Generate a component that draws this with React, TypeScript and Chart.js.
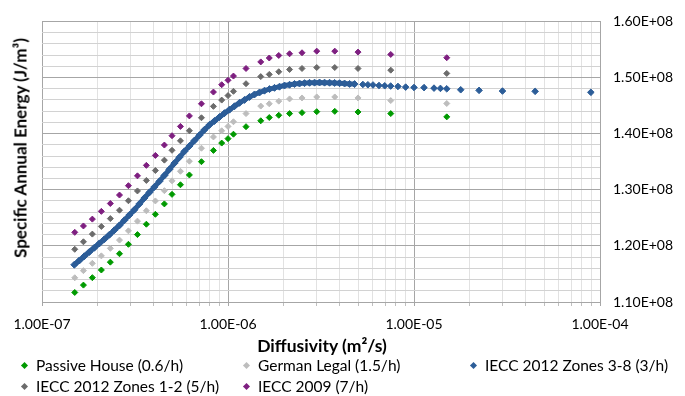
import React, { useEffect, useRef } from "react";
import { Chart, registerables } from "chart.js";

Chart.register(...registerables);

// ---- data (x: diffusivity m²/s, y: specific annual energy J/m³) ----
const commonX = [
  1.5e-7, 1.67e-7, 1.865e-7, 2.085e-7, 2.33e-7, 2.61e-7, 2.915e-7, 3.26e-7, 3.64e-7, 4.07e-7,
  4.55e-7, 5.0e-7, 5.55e-7, 6.2e-7, 7.2e-7, 8.35e-7, 9.25e-7, 1.0e-6, 1.07e-6, 1.25e-6,
  1.5e-6, 1.667e-6, 1.875e-6, 2.143e-6, 2.5e-6, 3.0e-6, 3.75e-6, 5.0e-6, 7.5e-6, 1.5e-5,
];
const passiveHouse = [
  1.117e8, 1.1301e8, 1.1434e8, 1.157e8, 1.171e8, 1.186e8, 1.2028e8, 1.2201e8, 1.2386e8, 1.2563e8,
  1.2748e8, 1.2918e8, 1.3089e8, 1.3264e8, 1.35e8, 1.3701e8, 1.3832e8, 1.3911e8, 1.399e8, 1.4124e8,
  1.4229e8, 1.4287e8, 1.4327e8, 1.4357e8, 1.4374e8, 1.4392e8, 1.4397e8, 1.4386e8, 1.4357e8, 1.4299e8,
];
const germanLegal = [
  1.1432e8, 1.1559e8, 1.1689e8, 1.1822e8, 1.1956e8, 1.2103e8, 1.2268e8, 1.2441e8, 1.2626e8, 1.2801e8,
  1.2984e8, 1.3159e8, 1.3329e8, 1.3509e8, 1.374e8, 1.3941e8, 1.4051e8, 1.4129e8, 1.4212e8, 1.4357e8,
  1.4491e8, 1.4532e8, 1.4579e8, 1.4619e8, 1.4636e8, 1.4654e8, 1.4654e8, 1.4636e8, 1.4589e8, 1.4537e8,
];
const zones12 = [
  1.1939e8, 1.2073e8, 1.221e8, 1.2346e8, 1.2486e8, 1.2636e8, 1.2804e8, 1.2979e8, 1.3166e8, 1.3343e8,
  1.3528e8, 1.3703e8, 1.3872e8, 1.4052e8, 1.4283e8, 1.4486e8, 1.4598e8, 1.4678e8, 1.4754e8, 1.489e8,
  1.5016e8, 1.5056e8, 1.5103e8, 1.5143e8, 1.5161e8, 1.5178e8, 1.5178e8, 1.5161e8, 1.5131e8, 1.5073e8,
];
const iecc2009 = [
  1.2241e8, 1.2355e8, 1.2477e8, 1.2615e8, 1.2755e8, 1.2906e8, 1.3073e8, 1.3248e8, 1.3435e8, 1.3612e8,
  1.3797e8, 1.3963e8, 1.4129e8, 1.4316e8, 1.4532e8, 1.4741e8, 1.4872e8, 1.4951e8, 1.5026e8, 1.5161e8,
  1.5278e8, 1.5348e8, 1.5393e8, 1.5423e8, 1.5441e8, 1.547e8, 1.547e8, 1.5453e8, 1.5411e8, 1.5353e8,
];
const zones38DenseX = [
  1.492e-7, 1.588e-7, 1.689e-7, 1.797e-7, 1.912e-7, 2.034e-7, 2.165e-7, 2.303e-7, 2.45e-7, 2.607e-7,
  2.773e-7, 2.951e-7, 3.139e-7, 3.34e-7, 3.553e-7, 3.78e-7, 4.022e-7, 4.279e-7, 4.552e-7, 4.843e-7,
  5.153e-7, 5.482e-7, 5.832e-7, 6.205e-7, 6.601e-7, 7.023e-7, 7.472e-7, 7.949e-7, 8.457e-7, 8.998e-7,
  9.573e-7, 1.0184e-6, 1.0835e-6, 1.1527e-6, 1.2264e-6, 1.3048e-6, 1.3881e-6, 1.4768e-6, 1.5712e-6, 1.6716e-6,
  1.7784e-6, 1.8921e-6, 2.013e-6, 2.143e-6, 2.2785e-6, 2.4241e-6, 2.579e-6, 2.7438e-6, 2.9192e-6, 3.1057e-6,
  3.3042e-6, 3.5154e-6, 3.7401e-6, 3.9791e-6, 4.2334e-6, 4.504e-6, 4.7918e-6,
];
const zones38DenseY = [
  1.1664e8, 1.174e8, 1.1816e8, 1.1892e8, 1.1967e8, 1.2044e8, 1.2119e8, 1.2198e8, 1.228e8, 1.2364e8,
  1.2456e8, 1.2551e8, 1.2643e8, 1.2748e8, 1.2853e8, 1.2953e8, 1.3051e8, 1.315e8, 1.3255e8, 1.3364e8,
  1.3474e8, 1.3579e8, 1.3684e8, 1.378e8, 1.3876e8, 1.3972e8, 1.4068e8, 1.4156e8, 1.4226e8, 1.4296e8,
  1.4365e8, 1.4427e8, 1.4488e8, 1.4549e8, 1.4601e8, 1.4654e8, 1.4698e8, 1.4733e8, 1.4766e8, 1.4794e8,
  1.4816e8, 1.4837e8, 1.4857e8, 1.4872e8, 1.4885e8, 1.4893e8, 1.49e8, 1.4906e8, 1.4909e8, 1.4911e8,
  1.4909e8, 1.4907e8, 1.4904e8, 1.4899e8, 1.4893e8, 1.4886e8, 1.4883e8,
];
const zones38SparseX = [
  5.31e-6, 5.65e-6, 6.02e-6, 6.48e-6, 6.96e-6, 7.49e-6, 8.2e-6, 9.02e-6, 1.0e-5, 1.132e-5,
  1.281e-5, 1.387e-5, 1.5e-5, 1.783e-5, 2.238e-5, 2.99e-5, 4.48e-5, 8.93e-5,
];
const zones38SparseY = [
  1.4876e8, 1.4871e8, 1.4867e8, 1.4858e8, 1.4853e8, 1.4848e8, 1.4841e8, 1.4829e8, 1.4823e8, 1.482e8,
  1.4811e8, 1.4806e8, 1.4799e8, 1.4782e8, 1.4771e8, 1.4759e8, 1.4754e8, 1.4736e8,
];

const seriesNames = [
  "Passive House (0.6/h)",
  "German Legal (1.5/h)",
  "IECC 2012 Zones 3-8 (3/h)",
  "IECC 2012 Zones 1-2 (5/h)",
  "IECC 2009 (7/h)",
];
const seriesColors = ["#009a00", "#bdbdbd", "#2c5d98", "#6b6b6b", "#7e1f80"];

const xDecades = [1e-7, 1e-6, 1e-5, 1e-4];
const xMultipliers = [1, 2, 3, 4, 5, 6, 7, 8, 9];
const yMin = 1.1e8;
const yMax = 1.6e8;
const yMinorStep = 2e6;
const yMajorStep = 1e7;

const FONT = "Lato, 'DejaVu Sans', sans-serif";
const MAJOR_GRID = "#a6a6a6";
const MINOR_GRID_Y = "#d2d2d2";
const MINOR_GRID_X = "#e2e2e2";

const pts = (xs: number[], ys: number[]) => xs.map((x, i) => ({ x, y: ys[i] }));
const isDecade = (v: number) => {
  const l = Math.log10(v);
  return Math.abs(l - Math.round(l)) < 1e-6;
};
const isYMajor = (v: number) => Math.abs(v / yMajorStep - Math.round(v / yMajorStep)) < 1e-6;

export default function App() {
  const ref = useRef<HTMLCanvasElement | null>(null);

  useEffect(() => {
    if (!ref.current) return;
    const xTicks: number[] = [];
    for (let d = 0; d < xDecades.length - 1; d++) {
      for (const m of xMultipliers) xTicks.push(xDecades[d] * m);
    }
    xTicks.push(xDecades[xDecades.length - 1]);
    const yTicks: number[] = [];
    const nY = Math.round((yMax - yMin) / yMinorStep);
    for (let i = 0; i <= nY; i++) yTicks.push(yMin + i * yMinorStep);

    const marker = (color: string, r = 3) => ({
      backgroundColor: color,
      borderColor: color,
      pointStyle: "rectRot" as const,
      pointRadius: r,
      pointBorderWidth: 1,
      showLine: false,
    });

    const chart = new Chart(ref.current, {
      type: "scatter",
      data: {
        datasets: [
          { label: seriesNames[0], data: pts(commonX, passiveHouse), ...marker(seriesColors[0]) },
          { label: seriesNames[1], data: pts(commonX, germanLegal), ...marker(seriesColors[1]) },
          {
            label: seriesNames[2],
            data: pts(zones38DenseX, zones38DenseY),
            ...marker(seriesColors[2], 3.5),
            showLine: true,
            borderWidth: 5,
          },
          { label: seriesNames[2] + " ", data: pts(zones38SparseX, zones38SparseY), ...marker(seriesColors[2], 3.3) },
          { label: seriesNames[3], data: pts(commonX, zones12), ...marker(seriesColors[3]) },
          { label: seriesNames[4], data: pts(commonX, iecc2009), ...marker(seriesColors[4]) },
        ],
      },
      options: {
        animation: false,
        responsive: false,
        devicePixelRatio: 1,
        layout: { padding: { left: 42, top: 17, right: 0, bottom: 0 } },
        plugins: { legend: { display: false }, tooltip: { enabled: false }, title: { display: false } },
        scales: {
          x: {
            type: "logarithmic",
            position: "bottom",
            min: 1e-7,
            max: 1e-4,
            afterBuildTicks: (scale: any) => {
              scale.ticks = xTicks.map((v) => ({ value: v, major: isDecade(v) }));
            },
            afterFit: (scale: any) => {
              scale.height = 94;
            },
            ticks: {
              autoSkip: false,
              maxRotation: 0,
              minRotation: 0,
              padding: 10,
              color: "#000",
              font: { family: FONT, size: 14 },
              callback: (v: any) => {
                const n = Number(v);
                if (!isDecade(n)) return "";
                const e = Math.round(Math.log10(n));
                return "1.00E" + (e < 0 ? "-" : "+") + String(Math.abs(e)).padStart(2, "0");
              },
            },
            grid: {
              color: (c: any) => (c.tick && isDecade(c.tick.value) ? MAJOR_GRID : MINOR_GRID_X),
              tickColor: (c: any) => (c.tick && isDecade(c.tick.value) ? MAJOR_GRID : "#bfbfbf"),
              tickLength: 4,
              drawTicks: true,
            },
            border: { display: true, color: MAJOR_GRID },
          },
          y: {
            type: "linear",
            position: "right",
            min: yMin,
            max: yMax,
            afterBuildTicks: (scale: any) => {
              scale.ticks = yTicks.map((v) => ({ value: v }));
            },
            afterFit: (scale: any) => {
              scale.width = 85;
            },
            ticks: {
              autoSkip: false,
              padding: 13,
              color: "#000",
              font: { family: FONT, size: 14 },
              callback: (v: any) => {
                const n = Number(v);
                if (!isYMajor(n)) return "";
                return (n / 1e8).toFixed(2) + "E+08";
              },
            },
            grid: {
              color: (c: any) => (c.tick && isYMajor(c.tick.value) ? MAJOR_GRID : MINOR_GRID_Y),
              drawTicks: false,
            },
            border: { display: true, color: MAJOR_GRID },
          },
        },
      },
    });
    return () => chart.destroy();
  }, []);

  const legendItems = [
    { name: seriesNames[0], color: seriesColors[0], left: 20, top: 356 },
    { name: seriesNames[1], color: seriesColors[1], left: 242, top: 356 },
    { name: seriesNames[2], color: seriesColors[2], left: 469, top: 356 },
    { name: seriesNames[3], color: seriesColors[3], left: 20, top: 377 },
    { name: seriesNames[4], color: seriesColors[4], left: 242, top: 377 },
  ];

  return (
    <div
      style={{
        position: "absolute",
        left: 0,
        top: 0,
        width: 685,
        height: 396,
        background: "#fff",
        overflow: "hidden",
        fontFamily: FONT,
      }}
    >
      <canvas ref={ref} width={685} height={396} style={{ position: "absolute", left: 0, top: 0 }} />
      <div
        style={{
          position: "absolute",
          left: 20,
          top: 148,
          transform: "translate(-50%, -50%) rotate(-90deg)",
          whiteSpace: "nowrap",
          fontWeight: 700,
          fontSize: 17,
          color: "#000",
        }}
      >
        Specific Annual Energy (J/m³)
      </div>
      <div
        style={{
          position: "absolute",
          left: 322,
          top: 345,
          transform: "translate(-50%, -50%)",
          whiteSpace: "nowrap",
          fontWeight: 700,
          fontSize: 17.5,
          color: "#000",
        }}
      >
        Diffusivity (m²/s)
      </div>
      {legendItems.map((it) => (
        <div
          key={it.name}
          style={{
            position: "absolute",
            left: it.left,
            top: it.top,
            height: 18,
            display: "flex",
            alignItems: "center",
            whiteSpace: "nowrap",
            fontSize: 15.5,
            color: "#000",
          }}
        >
          <span
            style={{
              display: "inline-block",
              width: 5,
              height: 5,
              background: it.color,
              transform: "rotate(45deg)",
              marginRight: 9,
              marginLeft: 2,
            }}
          />
          <span>{it.name}</span>
        </div>
      ))}
    </div>
  );
}
